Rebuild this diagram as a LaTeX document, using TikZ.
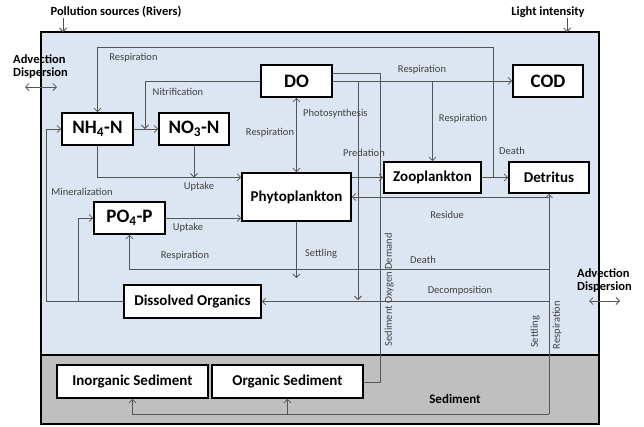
\documentclass[tikz,border=0pt]{standalone}
\usepackage{fontspec}
\setmainfont{Carlito}
\usetikzlibrary{arrows.meta}
\definecolor{bgblue}{HTML}{DCE6F2}
\definecolor{sedgray}{HTML}{BFBFBF}
\definecolor{linec}{HTML}{555555}
\definecolor{labc}{HTML}{404040}
\begin{document}
\begin{tikzpicture}[x=1pt,y=-1pt,
 box/.style={draw=black,line width=1.6pt,fill=white,inner sep=0pt,font=\bfseries\fontsize{15}{15}\selectfont},
 bigbox/.style={box,font=\bfseries\fontsize{19}{19}\selectfont},
 lbl/.style={text=labc,font=\fontsize{10.5}{10.5}\selectfont,inner sep=0pt},
 ttl/.style={font=\bfseries\fontsize{12.5}{13}\selectfont,inner sep=0pt},
 conn/.style={draw=linec,line width=0.8pt},
 arr/.style={conn,-{Straight Barb[length=3.5pt,width=7pt]}},
 arr2/.style={conn,{Straight Barb[length=3.5pt,width=7pt]}-{Straight Barb[length=3.5pt,width=7pt]}},
]
\useasboundingbox (0,0) rectangle (644,426);
% backgrounds
\fill[bgblue] (41,32) rectangle (599,355);
\fill[sedgray] (41,355) rectangle (599,424);
\draw[line width=1.2pt] (41,355) -- (599,355);
\draw[line width=1.6pt] (41,32) rectangle (599,424);

% boxes
\node[bigbox,minimum width=71pt,minimum height=32pt] (nh4) at (97.5,129) {NH\textsubscript{4}-N};
\node[bigbox,minimum width=70pt,minimum height=32pt] (no3) at (194,129) {NO\textsubscript{3}-N};
\node[bigbox,minimum width=71pt,minimum height=32pt] (do) at (296.5,81) {DO};
\node[bigbox,minimum width=70pt,minimum height=32pt] (cod) at (548,81) {COD};
\node[box,minimum width=109pt,minimum height=48pt] (phyto) at (296.5,197) {Phytoplankton};
\node[box,minimum width=97pt,minimum height=31pt] (zoo) at (432.5,177.5) {Zooplankton};
\node[box,minimum width=80pt,minimum height=31pt] (det) at (549,177.5) {Detritus};
\node[bigbox,minimum width=71pt,minimum height=32pt] (po4) at (129.5,218) {PO\textsubscript{4}-P};
\node[box,minimum width=137pt,minimum height=33pt] (dorg) at (192.5,301.5) {Dissolved Organics};
\node[box,minimum width=151pt,minimum height=33pt] (inorg) at (132.5,381.5) {Inorganic Sediment};
\node[box,minimum width=151pt,minimum height=33pt] (orgsed) at (287.5,381.5) {Organic Sediment};

% coordinates
\coordinate (j1) at (493,177.5);
\coordinate (nit) at (145,129);
\coordinate (sod) at (380,382);
\coordinate (p1) at (358,81);
\coordinate (p2) at (358,300);
\coordinate (r1) at (432.5,81);
\coordinate (u1) at (194,177.5);
\coordinate (sb) at (549,414);
\coordinate (res) at (549,197);
\coordinate (dth) at (549,269);
\coordinate (dec) at (549,301.5);
\coordinate (m1) at (46,301.5);
\coordinate (m2) at (78,301.5);
\coordinate (st) at (296.5,278);

% connectors
\draw[arr] (zoo.east) -- (det.west);
\draw[arr] (j1) -- ++(0,-130.5) -| (nh4.north);
\draw[arr] (do.west) -| (nit);
\draw[arr] (nh4.east) -- (no3.west);
\draw[arr] (do.east) -- (cod.west);
\draw[conn] ([yshift=8pt]do.east) -| (sod) -- (orgsed.east |- sod);
\draw[arr] (p1) -- (p2);
\draw[arr] (r1) -- (zoo.north);
\draw[arr2] (do.south) -- (phyto.north);
\draw[arr] (phyto.east |- zoo.west) -- (zoo.west);
\draw[arr] (nh4.south) |- ([yshift=-5pt]phyto.north west);
\draw[arr] (no3.south) -- (u1);
\draw[arr] (po4.east) -- (phyto.west |- po4.east);
\draw[arr] (sb) -- (det.south);
\draw[arr] (res) -- (phyto.east);
\draw[arr] (dth) -| (po4.south);
\draw[arr] (dec) -- (dorg.east);
\draw[arr] (dorg.west) -- (m1) |- (nh4.west);
\draw[arr] (m2) |- (po4.west);
\draw[arr] (phyto.south) -- (st);
\draw[arr] (sb) -| (inorg.south);
\draw[arr] (orgsed.south |- sb) -- (orgsed.south);

% labels
\node[lbl] (l1) at (133.5,58) {Respiration};
\node[lbl] (l2) at (178,92) {Nitrification};
\node[lbl] (l3) at (422,70) {Respiration};
\node[lbl,anchor=west] (l4) at (303,114) {Photosynthesis};
\node[lbl] (l5) at (270,133) {Respiration};
\node[lbl] (l6) at (463,119) {Respiration};
\node[lbl] (l7) at (364,153) {Predation};
\node[lbl] (l8) at (512,151) {Death};
\node[lbl] (l9) at (199,187) {Uptake};
\node[lbl] (l10) at (82,192) {Mineralization};
\node[lbl] (l11) at (188,228) {Uptake};
\node[lbl] (l12) at (447,215) {Residue};
\node[lbl] (l13) at (185,256) {Respiration};
\node[lbl] (l14) at (321,254) {Settling};
\node[lbl] (l15) at (423,260) {Death};
\node[lbl] (l16) at (460,291) {Decomposition};
\node[lbl,rotate=90] (l17) at (389,290) {Sediment Oxygen Demand};
\node[lbl,rotate=90] (l18) at (535,332) {Settling};
\node[lbl,rotate=90] (l19) at (557,325) {Respiration};

% outside titles
\node[ttl] (pol) at (116,12) {Pollution sources (Rivers)};
\coordinate (pola) at (63,32);
\draw[arr] (pol.south -| pola) -- (pola);
\node[ttl] (light) at (548,12) {Light intensity};
\coordinate (lia) at (567,32);
\draw[arr] (light.south -| lia) -- (lia);
\node[ttl,align=left,anchor=west] (advl) at (13,67) {Advection\\Dispersion};
\coordinate (al1) at (25,87);
\coordinate (al2) at (57,87);
\draw[arr2] (al1) -- (al2);
\node[ttl,align=left,anchor=west] (advr) at (577,281) {Advection\\Dispersion};
\coordinate (ar1) at (589,301);
\coordinate (ar2) at (620,301);
\draw[arr2] (ar1) -- (ar2);
\node[ttl,font=\bfseries\fontsize{13}{13}\selectfont] (sed) at (455,399) {Sediment};
\end{tikzpicture}
\end{document}
